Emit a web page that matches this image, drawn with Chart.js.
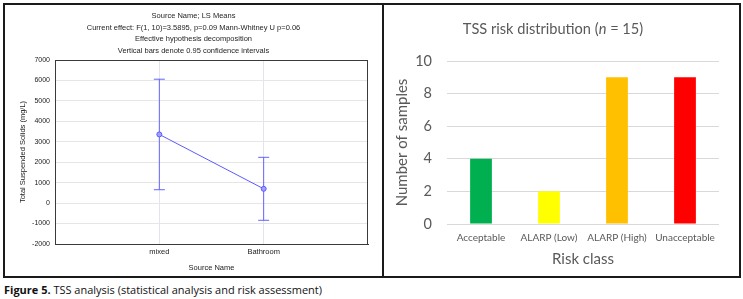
<!DOCTYPE html>
<html>
<head>
<meta charset="utf-8">
<script src="https://cdn.jsdelivr.net/npm/chart.js@4.4.0/dist/chart.umd.min.js"></script>
<style>
  html, body { margin: 0; padding: 0; background: #fff; }
  body { width: 743px; height: 299px; position: relative; overflow: hidden; }
  #frame { position: absolute; left: 3px; top: 3px; width: 738px; height: 275px; box-sizing: border-box; border: 2px solid #1a1a1a; }
  #divider { position: absolute; left: 382px; top: 3px; width: 2px; height: 275px; background: #1a1a1a; }
  #cLeft { position: absolute; left: 5px; top: 5px; }
  #cRight { position: absolute; left: 385px; top: 5px; }
  #rtitle { position: absolute; left: 403px; top: 19px; width: 300px; text-align: center; font-family: Lato, "Open Sans", sans-serif; font-size: 14.6px; color: #595959; white-space: nowrap; line-height: 20px; }
  #caption { position: absolute; left: 4px; top: 283px; font-family: "Open Sans", "Noto Sans", sans-serif; font-size: 11px; color: #111; white-space: nowrap; transform-origin: 0 0; line-height: 14px; }
  #caption b { font-weight: 700; }
</style>
</head>
<body>
<div id="frame"></div>
<div id="divider"></div>
<canvas id="cLeft" width="377" height="271"></canvas>
<canvas id="cRight" width="355" height="271"></canvas>
<div id="rtitle">TSS risk distribution (<i>n</i> = 15)</div>
<div id="caption"><b>Figure 5.</b> TSS analysis (statistical analysis and risk assessment)</div>
<script>
// ---- Left panel data: LS means with 95% confidence intervals ----
const sourceNames = ['mixed', 'Bathroom'];
const lsMeans = [3360, 700];
const ciLower = [655, -840];
const ciUpper = [6060, 2240];
const leftTitleLines = [
  'Source Name; LS Means',
  'Current effect: F(1, 10)=3.5895, p=0.09 Mann-Whitney U p=0.06',
  'Effective hypothesis decomposition',
  'Vertical bars denote 0.95 confidence intervals'
];
const leftYMin = -2000, leftYMax = 7000, leftYStep = 1000;

// ---- Right panel data: risk class counts ----
const riskClasses = ['Acceptable', 'ALARP (Low)', 'ALARP (High)', 'Unacceptable'];
const sampleCounts = [4, 2, 9, 9];
const rightYMin = 0, rightYMax = 10, rightYStep = 2;

// styles (kept separate from data)
const riskColors = ['#00B050', '#FFFF00', '#FFC000', '#FF0000'];
const lineBlue = '#5a5aff';

Chart.defaults.animation = false;
Chart.defaults.devicePixelRatio = 1;

const arial = 'Liberation Sans, Arial, sans-serif';

const framePlugin = {
  id: 'frame',
  beforeDatasetsDraw(chart) {
    const a = chart.chartArea, ctx = chart.ctx;
    ctx.save();
    ctx.strokeStyle = '#3a3a3a';
    ctx.lineWidth = 1;
    ctx.strokeRect(Math.round(a.left) + 0.5, Math.round(a.top) + 0.5, Math.round(a.right - a.left) - 1, Math.round(a.bottom - a.top));
    ctx.restore();
  }
};

const errorSets = sourceNames.map((n, i) => ({
  type: 'scatter',
  data: [{ x: i + 1, y: ciLower[i] }, { x: i + 1, y: ciUpper[i] }],
  showLine: true,
  borderColor: '#6464ff',
  borderWidth: 1,
  pointStyle: 'line',
  pointRadius: 5.5,
  pointBorderColor: '#6464ff',
  pointBorderWidth: 1,
  order: 2
}));

new Chart(document.getElementById('cLeft'), {
  type: 'scatter',
  data: {
    datasets: [
      {
        data: lsMeans.map((v, i) => ({ x: i + 1, y: v })),
        showLine: true,
        borderColor: lineBlue,
        borderWidth: 1,
        pointRadius: 2.5,
        pointBackgroundColor: '#a0a0ff',
        pointBorderColor: lineBlue,
        pointBorderWidth: 1,
        order: 1
      },
      ...errorSets
    ]
  },
  options: {
    responsive: false,
    layout: { padding: 0 },
    plugins: {
      legend: { display: false },
      tooltip: { enabled: false },
      title: {
        display: true,
        text: leftTitleLines,
        color: '#1e1e1e',
        font: { family: arial, size: 7.5, weight: 'normal', lineHeight: 11.8 / 7.5 },
        padding: { top: 4.8, bottom: 3 }
      }
    },
    scales: {
      x: {
        type: 'linear',
        min: 0, max: sourceNames.length + 1,
        afterBuildTicks: (s) => { s.ticks = sourceNames.map((n, i) => ({ value: i + 1 })); },
        afterFit: (s) => { s.height = 32; },
        ticks: {
          callback: (v) => sourceNames[v - 1] || '',
          color: '#222', font: { family: arial, size: 7.5 }, padding: 3.5, maxRotation: 0, autoSkip: false
        },
        grid: { color: '#e4e4ec', drawTicks: false },
        border: { color: '#3a3a3a' },
        title: { display: true, text: 'Source Name', color: '#222', font: { family: arial, size: 7.5 }, padding: { top: 0, bottom: 3.8 } }
      },
      y: {
        min: leftYMin, max: leftYMax,
        afterFit: (s) => { s.width = 50; },
        ticks: { stepSize: leftYStep, color: '#222', font: { family: arial, size: 7 }, padding: 5, callback: (v) => String(v) },
        grid: { color: '#e6e6e6', drawTicks: false },
        border: { color: '#3a3a3a' },
        title: { display: true, text: 'Total Suspended Solids (mg/L)', color: '#222', font: { family: arial, size: 7.5 }, padding: { top: 13.5, bottom: 0 } }
      },
      yRight: {
        position: 'right',
        min: leftYMin, max: leftYMax,
        afterFit: (s) => { s.width = 14; },
        ticks: { display: false },
        grid: { display: false, drawTicks: false },
        border: { display: false }
      }
    }
  },
  plugins: [framePlugin]
});

const calib = 'Lato, "Open Sans", sans-serif';
new Chart(document.getElementById('cRight'), {
  type: 'bar',
  data: {
    labels: riskClasses,
    datasets: [{
      data: sampleCounts,
      backgroundColor: riskColors,
      borderWidth: 0,
      barPercentage: 0.32,
      categoryPercentage: 1
    }]
  },
  options: {
    responsive: false,
    layout: { padding: { left: 0, right: 21, top: 56, bottom: 0 } },
    plugins: { legend: { display: false }, tooltip: { enabled: false }, title: { display: false } },
    scales: {
      x: {
        afterFit: (s) => { s.height = 52; },
        ticks: { color: '#595959', font: { family: calib, size: 10 }, padding: 7.7, maxRotation: 0, autoSkip: false },
        grid: { display: false, drawTicks: false },
        border: { display: false },
        title: { display: true, text: 'Risk class', color: '#595959', font: { family: calib, size: 15 }, padding: { top: 0, bottom: 8 } }
      },
      y: {
        min: rightYMin, max: rightYMax,
        afterFit: (s) => { s.width = 62; },
        ticks: { stepSize: rightYStep, color: '#595959', font: { family: calib, size: 14.5 }, padding: 15 },
        grid: { color: '#d9d9d9', drawTicks: false },
        border: { display: false },
        title: { display: true, text: 'Number of samples', color: '#595959', font: { family: calib, size: 15 }, padding: { top: 8, bottom: 0 } }
      }
    }
  }
});

// fit caption width to reference
const cap = document.getElementById('caption');
const w = cap.getBoundingClientRect().width;
if (w > 0) cap.style.transform = 'scaleX(' + (318 / w) + ')';
</script>
</body>
</html>
